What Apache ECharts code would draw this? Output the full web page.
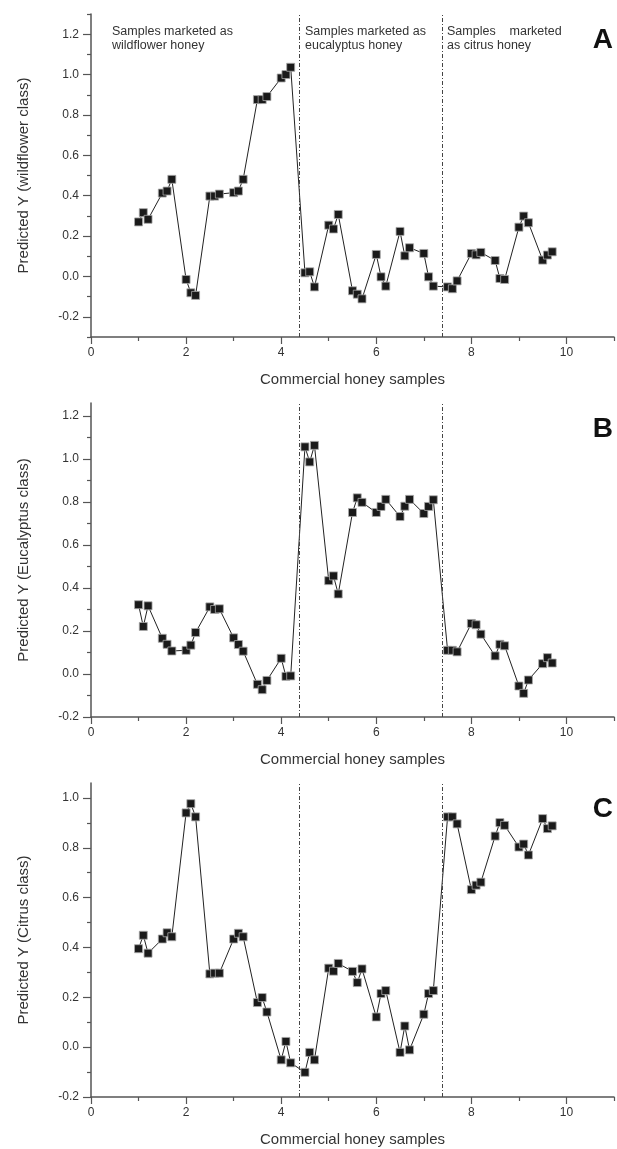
<!DOCTYPE html>
<html>
<head>
<meta charset="utf-8">
<title>Predicted Y - commercial honey samples</title>
<script src="https://cdn.jsdelivr.net/npm/echarts@6/dist/echarts.min.js"></script>
<style>
  html, body { margin: 0; padding: 0; background: #fff; }
  #chart { width: 617px; height: 1149px; }
</style>
</head>
<body>
<div id="chart"></div>
<script>
// sample position on the x axis (triplets of replicates)
var sampleX = [1.0, 1.1, 1.2, 1.5, 1.6, 1.7, 2.0, 2.1, 2.2, 2.5, 2.6, 2.7, 3.0, 3.1, 3.2, 3.5, 3.6, 3.7,
  4.0, 4.1, 4.2, 4.5, 4.6, 4.7, 5.0, 5.1, 5.2, 5.5, 5.6, 5.7, 6.0, 6.1, 6.2, 6.5, 6.6, 6.7,
  7.0, 7.1, 7.2, 7.5, 7.6, 7.7, 8.0, 8.1, 8.2, 8.5, 8.6, 8.7, 9.0, 9.1, 9.2, 9.5, 9.6, 9.7];

// A - wildflower class
var predWildflower = [0.270, 0.316, 0.283, 0.413, 0.423, 0.481, -0.015, -0.081, -0.094, 0.398, 0.398, 0.408,
  0.415, 0.423, 0.481, 0.876, 0.876, 0.891, 0.983, 1.000, 1.036, 0.018, 0.023, -0.052,
  0.254, 0.235, 0.307, -0.071, -0.088, -0.111, 0.109, -0.002, -0.048, 0.223, 0.102, 0.142,
  0.114, -0.002, -0.048, -0.052, -0.061, -0.022, 0.114, 0.107, 0.119, 0.079, -0.010, -0.015,
  0.244, 0.299, 0.266, 0.081, 0.106, 0.122];

// B - eucalyptus class
var predEucalyptus = [0.322, 0.221, 0.317, 0.166, 0.138, 0.107, 0.110, 0.134, 0.193, 0.312, 0.300, 0.303,
  0.168, 0.137, 0.106, -0.048, -0.073, -0.030, 0.073, -0.011, -0.009, 1.056, 0.986, 1.063,
  0.434, 0.456, 0.372, 0.751, 0.819, 0.798, 0.751, 0.779, 0.812, 0.732, 0.780, 0.812,
  0.746, 0.779, 0.810, 0.110, 0.110, 0.103, 0.235, 0.229, 0.185, 0.084, 0.138, 0.131,
  -0.056, -0.090, -0.028, 0.048, 0.076, 0.051];

// C - citrus class
var predCitrus = [0.395, 0.449, 0.377, 0.434, 0.459, 0.443, 0.940, 0.977, 0.924, 0.294, 0.297, 0.297,
  0.434, 0.457, 0.443, 0.179, 0.199, 0.141, -0.051, 0.023, -0.063, -0.101, -0.021, -0.051,
  0.317, 0.305, 0.336, 0.304, 0.259, 0.314, 0.121, 0.215, 0.227, -0.021, 0.085, -0.011,
  0.132, 0.215, 0.227, 0.924, 0.924, 0.896, 0.632, 0.650, 0.662, 0.847, 0.901, 0.890,
  0.803, 0.815, 0.771, 0.917, 0.877, 0.888];

// group boundaries (dash-dot lines)
var groupBounds = [4.37, 7.38];

// tick values
var xMajorTicks = [0, 2, 4, 6, 8, 10];
var xMinorTicks = [1, 3, 5, 7, 9, 11];
var yMajorTicks = [-0.2, 0.0, 0.2, 0.4, 0.6, 0.8, 1.0, 1.2];
var yMinorTicksA = [-0.3, -0.1, 0.1, 0.3, 0.5, 0.7, 0.9, 1.1, 1.3];
var yMinorTicksB = [-0.1, 0.1, 0.3, 0.5, 0.7, 0.9, 1.1];
var yMajorTicksC = [-0.2, 0.0, 0.2, 0.4, 0.6, 0.8, 1.0];
var yMinorTicksC = [-0.1, 0.1, 0.3, 0.5, 0.7, 0.9];

var panelNames = ['Predicted Y (wildflower class)', 'Predicted Y (Eucalyptus class)', 'Predicted Y (Citrus class)'];
var panelLetters = ['A', 'B', 'C'];
var xTitle = 'Commercial honey samples';

var FONT = '"Liberation Sans", Arial, Helvetica, sans-serif';
var AXIS_COLOR = '#555';
var TEXT_COLOR = '#333';

var chart = echarts.init(document.getElementById('chart'));

// panel layout: top and height of each plot area
var panels = [
  { top: 14, height: 323, min: -0.3, max: 1.3, data: predWildflower, major: yMajorTicks, minor: yMinorTicksA },
  { top: 403, height: 314, min: -0.2, max: 1.26, data: predEucalyptus, major: yMajorTicks, minor: yMinorTicksB },
  { top: 783, height: 314, min: -0.2, max: 1.06, data: predCitrus, major: yMajorTicksC, minor: yMinorTicksC }
];

var grid = [], xAxis = [], yAxis = [], series = [];

panels.forEach(function (p, i) {
  grid.push({ left: 91, right: 3, top: p.top, height: p.height });

  // main x axis: line, labels, major ticks
  xAxis.push({
    gridIndex: i, type: 'value', min: 0, max: 11,
    name: xTitle, nameLocation: 'middle', nameGap: 35,
    nameTextStyle: { fontFamily: FONT, fontSize: 15, color: TEXT_COLOR },
    axisLine: { show: true, onZero: false, lineStyle: { color: AXIS_COLOR, width: 1.5 } },
    axisTick: { show: true, length: 7, customValues: xMajorTicks, lineStyle: { color: AXIS_COLOR, width: 1.2 } },
    axisLabel: { customValues: xMajorTicks, margin: 10, fontFamily: FONT, fontSize: 12, color: TEXT_COLOR },
    splitLine: { show: false }
  });
  // minor x ticks
  xAxis.push({
    gridIndex: i, type: 'value', min: 0, max: 11, position: 'bottom',
    axisLine: { show: false, onZero: false },
    axisTick: { show: true, length: 4, customValues: xMinorTicks, lineStyle: { color: AXIS_COLOR, width: 1.2 } },
    axisLabel: { show: false },
    splitLine: { show: false }
  });

  // main y axis
  yAxis.push({
    gridIndex: i, type: 'value', min: p.min, max: p.max,
    name: panelNames[i], nameLocation: 'middle', nameGap: 60,
    nameTextStyle: { fontFamily: FONT, fontSize: 15, color: TEXT_COLOR },
    axisLine: { show: true, onZero: false, lineStyle: { color: AXIS_COLOR, width: 1.5 } },
    axisTick: { show: true, length: 8, customValues: p.major, lineStyle: { color: AXIS_COLOR, width: 1.2 } },
    axisLabel: {
      customValues: p.major, margin: 12, fontFamily: FONT, fontSize: 12, color: TEXT_COLOR,
      formatter: function (v) { return v.toFixed(1); }
    },
    splitLine: { show: false }
  });
  // minor y ticks
  yAxis.push({
    gridIndex: i, type: 'value', min: p.min, max: p.max, position: 'left',
    axisLine: { show: false, onZero: false },
    axisTick: { show: true, length: 4, customValues: p.minor, lineStyle: { color: AXIS_COLOR, width: 1.2 } },
    axisLabel: { show: false },
    splitLine: { show: false }
  });

  series.push({
    type: 'line',
    xAxisIndex: i * 2,
    yAxisIndex: i * 2,
    data: sampleX.map(function (x, k) { return [x, p.data[k]]; }),
    symbol: 'rect',
    symbolSize: 8,
    itemStyle: { color: '#1a1a1a', borderColor: '#aaa', borderWidth: 0.8 },
    lineStyle: { color: '#222', width: 1 },
    markLine: {
      silent: true,
      symbol: 'none',
      label: { show: false },
      lineStyle: { color: '#444', width: 1, type: [4, 2, 1, 2] },
      data: groupBounds.map(function (b) { return { xAxis: b }; })
    },
    z: 3
  });
});

// texts: panel letters and group notes
var graphic = [];
panelLetters.forEach(function (l, i) {
  graphic.push({
    type: 'text', right: 4, top: panels[i].top + 12,
    style: { text: l, font: 'bold 28px ' + FONT, fill: '#111' }
  });
});
var notes = [
  { left: 112, text: 'Samples marketed as\nwildflower honey' },
  { left: 305, text: 'Samples marketed as\neucalyptus honey' },
  { left: 447, text: 'Samples    marketed\nas citrus honey' }
];
notes.forEach(function (n) {
  graphic.push({
    type: 'text', left: n.left, top: 25,
    style: { text: n.text, font: '12.5px ' + FONT, fill: TEXT_COLOR, lineHeight: 14 }
  });
});

var option = {
  animation: false,
  backgroundColor: '#fff',
  grid: grid,
  xAxis: xAxis,
  yAxis: yAxis,
  series: series,
  graphic: graphic
};
chart.setOption(option);
</script>
</body>
</html>
